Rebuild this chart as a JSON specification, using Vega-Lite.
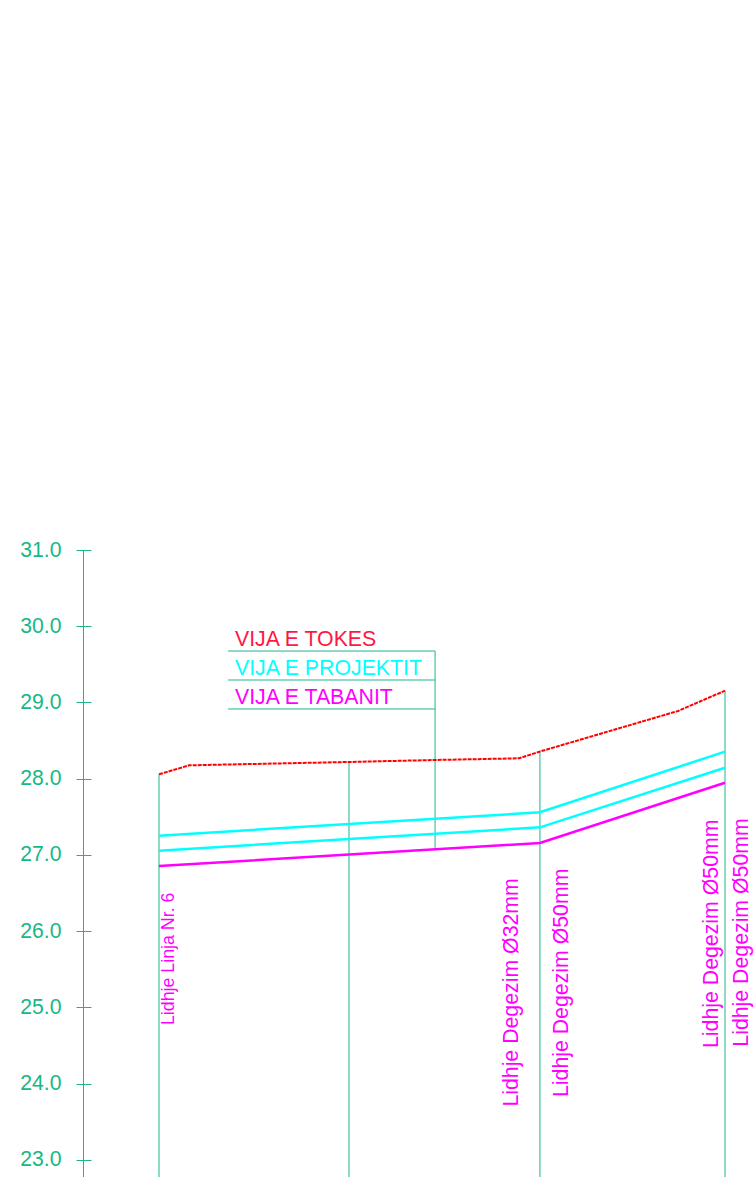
{
  "$schema": "https://vega.github.io/schema/vega-lite/v6.json",
  "width": 671,
  "height": 627,
  "autosize": {"type": "none"},
  "padding": {"left": 83, "top": 550, "right": 0, "bottom": 0},
  "background": "white",
  "config": {"view": {"stroke": null}, "font": "Liberation Sans"},
  "datasets": {
    "profile": [
      {"line": "tokes", "st": 0, "elev": 28.058},
      {"line": "tokes", "st": 1.58, "elev": 28.176},
      {"line": "tokes", "st": 10, "elev": 28.22},
      {"line": "tokes", "st": 14.53, "elev": 28.246},
      {"line": "tokes", "st": 18.95, "elev": 28.268},
      {"line": "tokes", "st": 20.05, "elev": 28.357},
      {"line": "tokes", "st": 27.32, "elev": 28.889},
      {"line": "tokes", "st": 29.79, "elev": 29.155},
      {"line": "proj_top", "st": 0, "elev": 27.253},
      {"line": "proj_top", "st": 20.05, "elev": 27.56},
      {"line": "proj_top", "st": 29.79, "elev": 28.355},
      {"line": "proj_bot", "st": 0, "elev": 27.057},
      {"line": "proj_bot", "st": 20.05, "elev": 27.363},
      {"line": "proj_bot", "st": 29.79, "elev": 28.145},
      {"line": "taban", "st": 0, "elev": 26.856},
      {"line": "taban", "st": 20.05, "elev": 27.157},
      {"line": "taban", "st": 29.79, "elev": 27.948}
    ],
    "verticals": [
      {"st": 0, "top": 28.058, "bottom": 22.777},
      {"st": 10, "top": 28.22, "bottom": 22.777},
      {"st": 14.53, "top": 29.675, "bottom": 27.079},
      {"st": 20.05, "top": 28.357, "bottom": 22.777},
      {"st": 29.79, "top": 29.155, "bottom": 22.777}
    ],
    "legendLines": [
      {"st": 3.63, "st2": 14.53, "elev": 29.675},
      {"st": 3.63, "st2": 14.53, "elev": 29.295},
      {"st": 3.63, "st2": 14.53, "elev": 28.915}
    ],
    "legendText": [
      {"label": "VIJA E TOKES", "st": 4.0, "elev": 29.745},
      {"label": "VIJA E PROJEKTIT", "st": 4.0, "elev": 29.361},
      {"label": "VIJA E TABANIT", "st": 4.0, "elev": 28.984}
    ],
    "labelsBig": [
      {"label": "Lidhje Degezim Ø32mm", "st": 18.9, "elev": 23.70},
      {"label": "Lidhje Degezim Ø50mm", "st": 21.53, "elev": 23.826},
      {"label": "Lidhje Degezim Ø50mm", "st": 29.43, "elev": 24.469},
      {"label": "Lidhje Degezim Ø50mm", "st": 31.0, "elev": 24.486}
    ],
    "labelsSmall": [
      {"label": "Lidhje Linja Nr. 6", "st": 0.78, "elev": 24.77}
    ]
  },
  "resolve": {"axis": {"y": "independent"}, "scale": {"color": "independent"}},
  "layer": [
    {
      "data": {"name": "verticals"},
      "mark": {"type": "rule", "color": "#1fb58c", "strokeWidth": 1},
      "encoding": {
        "x": {"field": "st", "type": "quantitative", "scale": {"domain": [-4, 31.316], "nice": false, "zero": false}, "axis": null},
        "y": {"field": "top", "type": "quantitative", "scale": {"domain": [22.777, 31], "nice": false, "zero": false},
          "axis": {"orient": "left", "values": [23, 24, 25, 26, 27, 28, 29, 30, 31], "format": ".1f", "domain": false, "ticks": true, "tickSize": 15, "tickColor": "#1fb58c", "tickWidth": 1, "offset": -8, "labelPadding": 15, "labelFontSize": 21.2, "labelColor": "#15b886", "labelFont": "Liberation Sans", "labelFlush": false, "labelOverlap": false, "labelBound": false, "grid": false, "title": null}},
        "y2": {"field": "bottom"}
      }
    },
    {
      "data": {"name": "legendLines"},
      "mark": {"type": "rule", "color": "#1fb58c", "strokeWidth": 1},
      "encoding": {
        "x": {"field": "st", "type": "quantitative", "axis": null},
        "x2": {"field": "st2"},
        "y": {"field": "elev", "type": "quantitative",
          "axis": {"orient": "left", "domain": true, "domainColor": "#1fb58c", "domainWidth": 1, "ticks": false, "labels": false, "grid": false, "title": null, "offset": 0}}
      }
    },
    {
      "data": {"name": "profile"},
      "transform": [{"filter": "datum.line === 'tokes'"}],
      "mark": {"type": "line", "color": "#ff0000", "strokeWidth": 2, "strokeDash": [4, 1]},
      "encoding": {
        "x": {"field": "st", "type": "quantitative", "axis": null},
        "y": {"field": "elev", "type": "quantitative", "axis": null}
      }
    },
    {
      "data": {"name": "profile"},
      "transform": [{"filter": "datum.line !== 'tokes'"}],
      "mark": {"type": "line", "strokeWidth": 2.5},
      "encoding": {
        "x": {"field": "st", "type": "quantitative", "axis": null},
        "y": {"field": "elev", "type": "quantitative", "axis": null},
        "detail": {"field": "line"},
        "color": {"field": "line", "type": "nominal", "scale": {"domain": ["proj_top", "proj_bot", "taban"], "range": ["#00ffff", "#00ffff", "#ff00ff"]}, "legend": null}
      }
    },
    {
      "data": {"name": "legendText"},
      "mark": {"type": "text", "align": "left", "baseline": "alphabetic", "fontSize": 21.3, "font": "Liberation Sans"},
      "encoding": {
        "x": {"field": "st", "type": "quantitative", "axis": null},
        "y": {"field": "elev", "type": "quantitative", "axis": null},
        "text": {"field": "label"},
        "color": {"field": "label", "type": "nominal", "scale": {"domain": ["VIJA E TOKES", "VIJA E PROJEKTIT", "VIJA E TABANIT"], "range": ["#ff1744", "#00ffff", "#ff00ff"]}, "legend": null}
      }
    },
    {
      "data": {"name": "labelsBig"},
      "mark": {"type": "text", "align": "left", "baseline": "alphabetic", "angle": 270, "fontSize": 21.3, "font": "Liberation Sans", "color": "#ff00ff"},
      "encoding": {
        "x": {"field": "st", "type": "quantitative", "axis": null},
        "y": {"field": "elev", "type": "quantitative", "axis": null},
        "text": {"field": "label"}
      }
    },
    {
      "data": {"name": "labelsSmall"},
      "mark": {"type": "text", "align": "left", "baseline": "alphabetic", "angle": 270, "fontSize": 17.8, "font": "Liberation Sans", "color": "#ff00ff"},
      "encoding": {
        "x": {"field": "st", "type": "quantitative", "axis": null},
        "y": {"field": "elev", "type": "quantitative", "axis": null},
        "text": {"field": "label"}
      }
    }
  ]
}
